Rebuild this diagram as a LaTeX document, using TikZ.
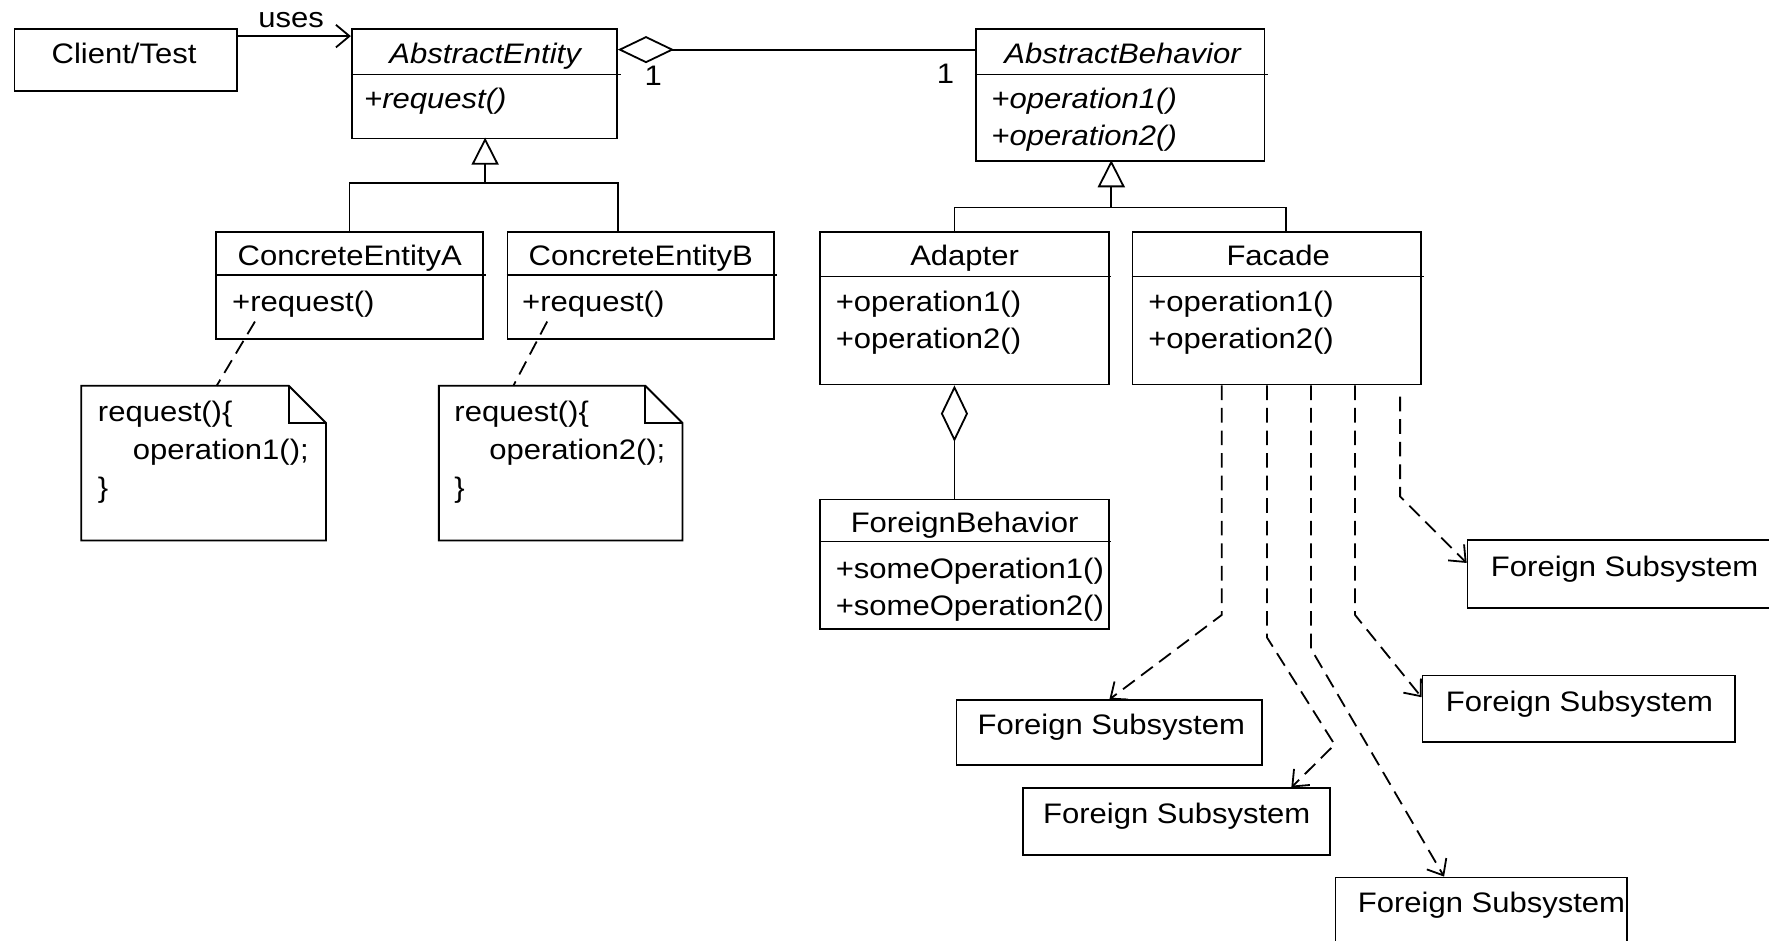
\documentclass[tikz,border=0pt]{standalone}
\usepackage{fontspec}
\setmainfont{Liberation Sans}[FakeStretch=1.1]
\usetikzlibrary{arrows.meta,calc}
\begin{document}
\begin{tikzpicture}[x=0.5pt,y=-0.5pt,line width=0.8pt,
  font=\fontsize{12.5}{15}\selectfont,
  box/.style={draw,inner sep=0,anchor=north west},
  tl/.style={inner sep=0,anchor=base west},
  tc/.style={inner sep=0,anchor=base},
  dsh/.style={dash pattern=on 6.5pt off 3.5pt},
  barb/.style={-{Straight Barb[length=6pt,width=10pt]}},
  inh/.style={-{Triangle[open,length=12pt,width=12pt]}},
  agg/.style={-{Diamond[open,length=25pt,width=12pt]}}]
\useasboundingbox (0,0) rectangle (1568,834);
\fill[white] (0,0) rectangle (1568,834);

% ---------- boxes ----------
\node[box,minimum width=98.5pt,minimum height=27.5pt] (client) at (12,25) {};
\node[tc] (clientT) at (110,56) {Client/Test};

\node[box,minimum width=117.5pt,minimum height=48.5pt] (ae) at (311,25) {};
\draw (311,66) -- (550,66);
\node[tc] (aeT) at (430,56) {\itshape AbstractEntity};
\node[tl] (aeO) at (322,96) {\itshape +request()};

\node[box,minimum width=128pt,minimum height=58.5pt] (ab) at (864,25) {};
\draw (864,66) -- (1124,66);
\node[tc] (abT) at (995,56) {\itshape AbstractBehavior};
\node[tl] (abO1) at (878,96) {\itshape +operation1()};
\node[tl] (abO2) at (878,129) {\itshape +operation2()};

\node[box,minimum width=118pt,minimum height=47.5pt] (cea) at (191,205) {};
\draw (191,244) -- (431,244);
\node[tc] (ceaT) at (310,235) {ConcreteEntityA};
\node[tl] (ceaO) at (205,276) {+request()};

\node[box,minimum width=118pt,minimum height=47.5pt] (ceb) at (449,205) {};
\draw (449,244) -- (689,244);
\node[tc] (cebT) at (568,235) {ConcreteEntityB};
\node[tl] (cebO) at (462,276) {+request()};

\node[box,minimum width=128pt,minimum height=67.5pt] (adapter) at (726,205) {};
\draw (726,245) -- (985,245);
\node[tc] (adT) at (855,235) {Adapter};
\node[tl] (adO1) at (740,276) {+operation1()};
\node[tl] (adO2) at (740,309) {+operation2()};

\node[box,minimum width=128pt,minimum height=67.5pt] (facade) at (1003,205) {};
\draw (1003,245) -- (1262,245);
\node[tc] (faT) at (1133,235) {Facade};
\node[tl] (faO1) at (1017,276) {+operation1()};
\node[tl] (faO2) at (1017,309) {+operation2()};

\node[box,minimum width=128pt,minimum height=57.5pt] (fb) at (726,442) {};
\draw (726,480) -- (985,480);
\node[tc] (fbT) at (855,472) {ForeignBehavior};
\node[tl] (fbO1) at (740,513) {+someOperation1()};
\node[tl] (fbO2) at (740,546) {+someOperation2()};

% Foreign subsystems
\node[box,minimum width=135.5pt,minimum height=28.5pt] (fs1) at (847,620) {};
\node[tc] (fs1T) at (985,651) {Foreign Subsystem};
\node[box,minimum width=136pt,minimum height=29.5pt] (fs2) at (906,698) {};
\node[tc] (fs2T) at (1043,730) {Foreign Subsystem};
\node[box,minimum width=129pt,minimum height=31.5pt] (fs3) at (1183,777) {};
\node[tc] (fs3T) at (1322,809) {Foreign Subsystem};
\node[box,minimum width=138.5pt,minimum height=29.5pt] (fs4) at (1260,598) {};
\node[tc] (fs4T) at (1400,631) {Foreign Subsystem};
\node[box,minimum width=140pt,minimum height=30pt] (fs5) at (1300,478) {};
\node[tc] (fs5T) at (1440,511) {Foreign Subsystem};

% notes
\node[inner sep=0,anchor=north west,minimum width=108.5pt,minimum height=68.5pt] (noteA) at (72,342) {};
\draw (noteA.north west) -- ++(184,0) -- ++(33,33) -- ++(0,104) -- ++(-217,0) -- cycle;
\draw (256,342) -- (256,375) -- (289,375);
\node[tl] (nA1) at (86,374) {request()\{};
\node[tl] (nA2) at (117,407) {operation1();};
\node[tl] (nA3) at (86,441) {\}};

\node[inner sep=0,anchor=north west,minimum width=108pt,minimum height=68.5pt] (noteB) at (389,342) {};
\draw (noteB.north west) -- ++(183,0) -- ++(33,33) -- ++(0,104) -- ++(-216,0) -- cycle;
\draw (572,342) -- (572,375) -- (605,375);
\node[tl] (nB1) at (402,374) {request()\{};
\node[tl] (nB2) at (433,407) {operation2();};
\node[tl] (nB3) at (402,441) {\}};

% ---------- connectors ----------
\draw[barb] ([yshift=-3.5pt]client.north east) -- ([yshift=-3.5pt]ae.north west);
\node[tc] (uses) at (258,24) {uses};

\draw[agg] ([yshift=-9.5pt]ab.north west) -- ([yshift=-9.5pt]ae.north east);
\node[tc] (m1) at (579,76) {1};
\node[tc] (m2) at (838,74) {1};

% inheritance entity
\coordinate (j1) at (430,162);
\draw[inh] (j1) -- (430,122);
\draw (cea.north) |- (j1);
\draw (j1) -| ([xshift=49.5pt]ceb.north west);

% inheritance behavior
\coordinate (j2) at (985,184);
\draw[inh] (j2) -- (985,142);
\draw (j2) -| ([xshift=60pt]adapter.north west);
\draw (j2) -| ([xshift=68.5pt]facade.north west);

% aggregation adapter - foreign behavior
\draw[agg] ([xshift=60pt]fb.north west) -- ([xshift=60pt]adapter.south west);

% notes links
\coordinate (naS) at (226,285);
\coordinate (nbS) at (485,285);
\draw[dsh] (naS) -- ([xshift=60pt]noteA.north west);
\draw[dsh] (nbS) -- ([xshift=33pt]noteB.north west);

% facade dependencies
\draw[dsh,barb] ([xshift=40pt]facade.south west) -- (1083,545) -- (fs1.north);
\draw[dsh,barb] ([xshift=60pt]facade.south west) -- (1123,565) -- (1183,660) -- ([xshift=-17.5pt]fs2.north east);
\draw[dsh,barb] ([xshift=79.5pt]facade.south west) -- (1162,575) -- ([xshift=48.5pt]fs3.north west);
\draw[dsh,barb] ([xshift=99pt]facade.south west) -- (1201,545) -- ([yshift=-10pt]fs4.north west);
\draw[dsh,barb] ([xshift=119pt,yshift=-5pt]facade.south west) -- (1241,440) -- ([yshift=-10.5pt]fs5.north west);
\end{tikzpicture}
\end{document}
